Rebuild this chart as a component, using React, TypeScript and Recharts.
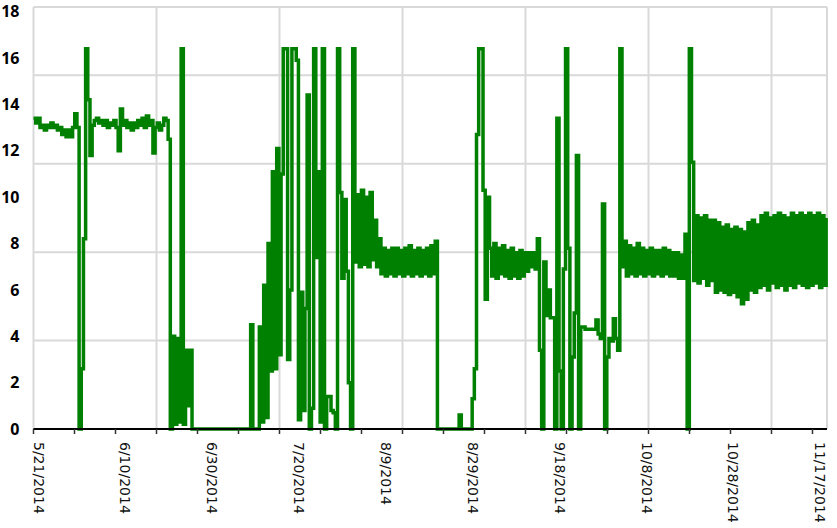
import { LineChart, Line, XAxis, YAxis, CartesianGrid } from "recharts";

// two readings per day, first one on 5/21/2014
const STEP_DAYS = 0.5;

const may21 = [13.4, 13.2, 13.4, 13.0, 13.1, 12.9, 13.1, 13.0, 13.2, 13.0, 13.1, 12.9, 13.0, 12.7, 12.9, 12.6, 12.9, 12.6, 13.0, 13.6, 13.0, 0, 2.6, 8.2, 16.4, 14.2, 11.8, 13.1];
const jun4 = [13.3, 13.4, 13.2, 13.3, 13.1, 13.3, 13.0, 13.2, 13.1, 13.3, 13.0, 12.0, 13.8, 13.1, 13.3, 13.0, 13.2, 12.9, 13.2, 13.0, 13.3, 13.1, 13.4, 13.0, 13.5, 13.1, 13.3, 11.9, 13.0, 13.2, 12.9, 13.1, 13.4, 13.3, 12.5];
const jun21 = [0, 4.0, 0.2, 3.9, 0.3, 16.4, 0.2, 3.4, 1.0, 3.4, 0, 0, 0, 0, 0, 0, 0, 0, 0, 0, 0, 0, 0, 0, 0, 0, 0, 0, 0, 0, 0, 0, 0, 0, 0, 0, 0];
const jul10 = [4.5, 0, 0, 0, 4.4, 0.3, 6.2, 0.5, 8.0, 2.5, 11.1, 2.6, 12.1, 3.2, 11.0, 16.4, 16.4, 3.0, 6.0, 16.4, 16.4, 15.9, 0.4, 5.9, 0.8, 5.2, 14.4, 0, 0.9, 16.4, 7.4, 11.1, 0.3, 16.4, 0, 1.4, 1.4, 0.8, 0.7, 0, 16.4, 10.2, 6.5, 9.9, 6.8, 2.0, 0, 16.4, 7.2, 10.1, 7.0, 10.3, 7.1, 10.0, 7.0, 10.2, 7.3, 9.0, 7.0, 8.2];
const aug9 = [6.7, 7.8, 6.6, 7.7, 6.7, 7.8, 6.6, 7.8, 6.7, 7.7, 6.6, 7.8, 6.7, 7.9, 6.6, 7.7, 6.7, 7.8, 6.6, 7.7, 6.7, 7.8, 6.6, 7.9, 6.7, 8.1];
const aug22 = [0, 0, 0, 0, 0, 0, 0, 0, 0, 0, 0.6, 0, 0, 0, 0, 0, 1.3, 2.6, 12.7, 16.4, 16.4, 10.3, 5.6, 10.0, 7.8];
const sep3 = [6.6, 8.0, 6.5, 7.8, 6.7, 7.9, 6.6, 7.7, 6.5, 7.8, 6.6, 7.6, 6.5, 7.7, 6.6, 7.6, 6.8, 7.6, 7.0, 7.6, 6.9, 8.2];
const sep14 = [3.4, 0, 7.2, 4.9, 6.0, 4.8, 4.8, 0, 13.4, 2.5, 0, 6.9, 16.4, 7.8, 0, 3.1, 5.0, 11.8, 0, 4.4, 4.4, 4.3, 4.3, 4.3, 4.3, 4.3, 4.7, 4.1, 3.9, 9.7, 0, 3.1, 3.9, 3.8, 4.75, 3.9, 3.4, 16.4];
const oct3 = [7.0, 8.1, 6.6, 7.9, 6.7, 7.8, 6.6, 8.0, 6.7, 7.8, 6.6, 7.7, 6.7, 7.8, 6.6, 7.7, 6.7, 7.7, 6.6, 7.8, 6.7, 7.7, 6.6, 7.6, 6.6, 7.6, 6.5, 7.5, 6.5];
const oct18 = [8.4, 0, 16.4, 11.5];
const oct20 = [6.4, 9.2, 6.3, 9.1, 6.5, 9.2, 6.2, 9.0, 6.4, 9.0, 5.9, 8.9, 6.0, 8.7, 5.9, 8.8, 5.8, 8.6, 5.9, 8.7, 5.7, 8.6, 5.4, 8.5, 5.6, 8.9, 6.0, 9.0, 5.9, 8.8, 6.1, 9.2, 6.2, 9.3, 6.0, 9.1, 6.3, 9.2, 6.1, 9.3, 6.2, 9.2, 6.0, 9.1, 6.2, 9.3, 6.1, 9.2, 6.3, 9.3, 6.2, 9.2, 6.1, 9.3, 6.2, 9.2, 6.3, 9.3, 6.1, 9.2, 6.2, 9.1];

const readings = [may21, jun4, jun21, jul10, aug9, aug22, sep3, sep14, oct3, oct18, oct20].flat();
const data = readings.map((value, i) => ({ day: i * STEP_DAYS, value }));

const dateTicks = [0, 20, 40, 60, 80, 100, 120, 140, 160, 180];
const dateLabels = ["5/21/2014", "6/10/2014", "6/30/2014", "7/20/2014", "8/9/2014", "8/29/2014", "9/18/2014", "10/8/2014", "10/28/2014", "11/17/2014"];
const minorTicks = [0, 9.44, 18.88, 28.32, 37.76, 47.2, 56.64, 66.08, 75.52, 84.96, 94.4, 103.84, 113.28, 122.72, 132.16, 141.6, 151.04, 160.48, 169.92, 179.36];
const gridDays = [0, 28.32, 56.64, 84.96, 113.28, 141.6, 169.92];
const valueTicks = [0, 2, 4, 6, 8, 10, 12, 14, 16, 18];
const gridValues = [4, 8, 12, 16];

const X_DOMAIN = [0, 182.7];
const axisTicks = [...new Set([...minorTicks, ...dateTicks])].sort((a, b) => a - b);

// one tick per position: a short mark for the minor ticks, rotated text for the dates
function DateTick({ x, y, payload }: any) {
  const idx = dateTicks.indexOf(payload.value);
  const isMinor = minorTicks.includes(payload.value);
  return (
    <g>
      {isMinor && <line x1={x} x2={x} y1={y} y2={y + 5} stroke="#333" strokeWidth={1.5} />}
      {idx >= 0 && (
        <text
          transform={`translate(${x},${y + 13}) rotate(90)`}
          textAnchor="start"
          fontFamily="DejaVu Sans"
          fontSize={14}
          fill="#111"
        >
          {dateLabels[idx]}
        </text>
      )}
    </g>
  );
}

export default function App() {
  return (
    <div style={{ position: "absolute", left: 0, top: 0, background: "#fff" }}>
      <LineChart
        width={837}
        height={528}
        data={data}
        margin={{ top: 7, right: 10, bottom: 0, left: 0 }}
      >
        <CartesianGrid
          xAxisId="gridX"
          yAxisId="gridY"
          stroke="#d9d9d9"
          strokeWidth={2}
        />
        <XAxis
          xAxisId="dates"
          dataKey="day"
          type="number"
          domain={X_DOMAIN}
          ticks={axisTicks}
          interval={0}
          height={99}
          tickSize={0}
          tickMargin={0}
          tickLine={false}
          axisLine={{ stroke: "#000", strokeWidth: 2 }}
          tick={<DateTick />}
        />
        <XAxis
          xAxisId="gridX"
          dataKey="day"
          type="number"
          domain={X_DOMAIN}
          ticks={gridDays}
          interval={0}
          hide
        />
        <YAxis
          yAxisId="values"
          dataKey="value"
          type="number"
          domain={[0, 18.2]}
          ticks={valueTicks}
          interval={0}
          width={33.5}
          tickSize={0}
          tickMargin={14}
          tickLine={false}
          axisLine={false}
          tick={{ fill: "#000", fontSize: 16, fontWeight: 700, fontFamily: "Open Sans" }}
        />
        <YAxis
          yAxisId="gridY"
          dataKey="value"
          type="number"
          domain={[0, 19.09]}
          ticks={gridValues}
          interval={0}
          width={0}
          hide
        />
        <Line
          xAxisId="dates"
          yAxisId="values"
          dataKey="value"
          type="stepAfter"
          stroke="#008000"
          strokeWidth={3.5}
          dot={false}
          isAnimationActive={false}
        />
      </LineChart>
    </div>
  );
}
